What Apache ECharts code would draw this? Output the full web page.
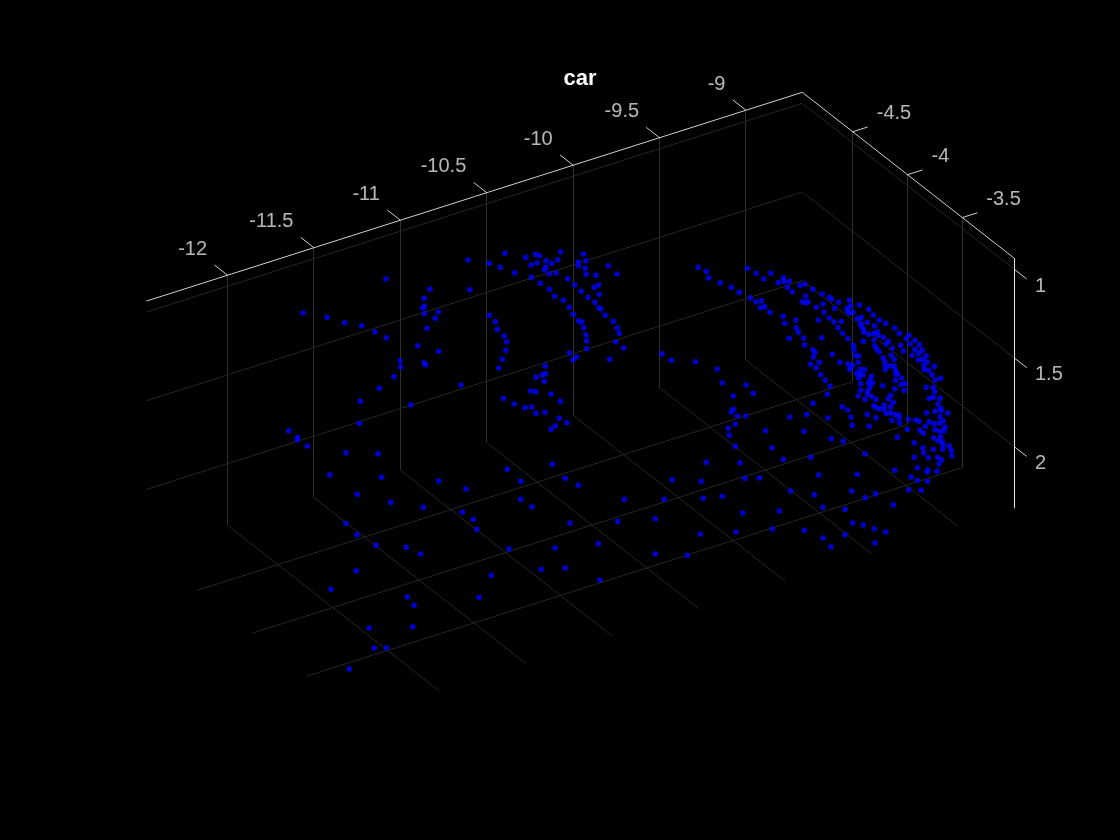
<!DOCTYPE html>
<html>
<head>
<meta charset="utf-8">
<style>html,body{margin:0;padding:0;background:#000}#chart{width:1120px;height:840px}</style>
<script src="https://cdn.jsdelivr.net/npm/echarts@6/dist/echarts.min.js"></script>
</head>
<body>
<div id="chart"></div>
<script>
// Tick values and labels of the three box axes
const xTicks = [-12, -11.5, -11, -10.5, -10, -9.5, -9];
const yTicks = [-4.5, -4, -3.5];
const zTicks = [1, 1.5, 2];
const xLimits = [-12.469, -8.674];
const yLimits = [-4.96, -3.026];
const zLimits = [0.938, 2.347];
const titleText = 'car';

// Scatter points, as [across, down] on the view plane of the 3-D plot
const frontBody = [
[822,294],[829.3,297.3],[831.7,299.3],[838.7,302.3],[849.3,300.3],[823,304],[850.7,306],[859.3,305],[834.7,308.3],[847.3,308],
[847.3,310.7],[824,312.3],[849.3,313.3],[853,312.3],[868.7,309.3],[873.3,315],[861.3,317.3],[857.3,318.7],[829.3,318],[834,321.7],
[841.3,321.3],[879.3,320],[885.7,323.3],[867.3,322.3],[860.7,323.3],[861.3,326],[874.7,325.7],[838,327.7],[863.3,329],[864,332.3],
[894.7,328],[899.3,333.3],[842.7,333.3],[868.7,334.3],[874,333.3],[877.3,332],[878,335.3],[883.3,337.3],[909,335.3],[906.3,338.3],
[915,340.3],[821.7,337.7],[848,338.7],[863.3,341.3],[874,340],[888.7,341.3],[886,343.7],[910,344],[919.7,344.7],[900.7,345.3],
[853.3,345.3],[875,346],[876.7,349],[892.3,348.3],[915,349.3],[922.3,350.3],[854,349.7],[879.3,352],[903.3,351],[918.7,353.3],
[912.3,355.3],[926.3,355.7],[832.3,354.3],[855.3,355.7],[858.7,355.7],[891.3,355.3],[883.3,358],[894.3,359.3],[918.3,360],[922.7,359.3],
[927.3,362],[840,362.3],[858.3,362.3],[885,361.7],[848,364],[852.3,365.3],[850.7,367.7],[849.7,369.3],[885.3,365.7],[890,366],
[894.3,366],[924,365],[934.3,366.3],[885.3,369.3],[860,369.3],[864.7,369.3],[895.3,370],[924.3,369.3],[928.7,370.3],[897.3,373.3],
[896,374.3],[856.7,373.3],[860,374.3],[863.3,375],[932,374.7],[871.7,376.3],[901.7,378],[858.7,378],[820.7,374.7],[940.7,378.3],
[935,380],[870,380],[895.3,380.3],[825.3,380.3],[860.7,383.7],[868.7,383.3],[872.7,382.7],[882.7,385.7],[901.3,384.3],[905,383.7],
[830,386.3],[894.7,388.7],[926,387.3],[933.3,387.3],[870,387.3],[860.7,390.3],[867.7,390.7],[904.3,390.3],[934.7,391.7],[827.3,394.3],
[867.7,393.7],[858.3,395.7],[890.7,395.3],[871.7,396.3],[933.3,397.3],[929.3,398.3],[865,399.3],[888.3,398.7],[940,398.3],[876,399.3]
];
const frontLower = [
[893.3,402.3],[938,404],[842.3,406.7],[847.7,410],[874,405.7],[875.3,407.3],[879.3,408.7],[884,404.7],[884.3,408.7],[890.7,406.7],
[940.7,408.3],[941,410.7],[926.7,412.7],[935,411.3],[947.7,413],[886,413.3],[890.7,412.7],[895,414.3],[899,415],[899,418],
[867.3,414.3],[851,417],[876,417.7],[828,418],[940,416.7],[908.3,419.3],[915.7,420],[919,421.3],[892,420.3],[943.3,421],
[929.3,421.7],[934,423.7],[939.3,423.3],[899.7,423],[852.3,425.3],[869.3,426.3],[925.3,426.3],[945,427],[907.3,429.3],[920,430.3],
[935,429.7],[940,431.3],[944,430.7],[923.3,433.3],[897.3,437.3],[831.3,438.7],[843.3,441.3],[933.7,437.7],[940.7,436.7],[938,440.7],
[942,441.7],[914.3,442.7],[943,445],[949.3,445.7],[923,447.7],[933.3,449.3],[942.7,449.3],[951.3,450.3],[923.7,452.7],[865,453.7],
[951.7,455.7],[914.3,457.3],[928.3,457.7],[937.7,457.3],[941.7,460],[939,464],[917.3,467.7],[927.7,470],[927,471.7],[937,471.3],
[894.7,470.3],[857.3,474.3],[911,477],[917.3,480.3],[927.3,481.3],[908.7,489.7],[921.3,490.3],[851.7,491],[875.7,493.7],[865.3,497.7],
[893.3,504.7],[822.7,507.3],[845,509.3],[852.7,522.7],[863.3,525],[874.3,528.7],[885.7,532],[875,543],[845,534.7],[823,538],[831,546.7]
];
const bonnetTop = [
[698.3,267.3],[706.3,271.3],[708.7,277.7],[720.3,282.7],[731.3,287.3],[739.3,292.3],[747.3,268.3],[756.3,273.3],[771,273.3],[763.7,279],
[783.3,277.7],[778.3,282.7],[784,281.3],[789.3,281.3],[787.3,287.3],[800,285.3],[805,284],[792.3,291.7],[813,289.3],[805.7,296],
[750.3,297.7],[756,301.7],[761.7,300.7],[760.3,307.7],[764.7,306.7],[770,312.3],[802.3,301.7],[806,303],[808,301.7],[816.3,307.3],
[783.3,316.3],[795.7,320],[818.3,320],[784.7,323.3],[796.3,327.7],[798.3,332.3],[789.3,338.3],[803.7,338],[804.7,345],[813,349.7],
[815,352.3],[813.3,357],[819.3,362.3],[810.7,364.3],[816.3,368],[695.3,361.7],[717.3,369]
];
const midLower = [
[662,353.7],[671.3,360.3],[722.3,383],[746.3,385],[753.3,393.3],[733.3,396],[733.3,409.3],[731.3,412],[737.3,416],[745.7,416],
[735.3,424],[728.3,428.3],[729.3,435.3],[735.3,446.3],[765.7,430.7],[789.7,417],[806.7,414.3],[813,403.3],[804,431.3],[772,447.7],
[783.3,459.3],[810.7,457.3],[706.3,462.3],[740,462.7],[818.7,475],[672.3,479.7],[701.3,481.3],[745,478.3],[759.3,478],[790.7,491],
[664.3,499.3],[703.3,498.3],[722.3,496.3],[814.3,494.7],[742.7,513],[779.3,511],[655.3,518.7],[700.3,534],[736,532],[772.3,529],
[804.3,530.3],[655.3,554],[687.3,555.3]
];
const floorMiddle = [
[507.3,469.3],[552.7,464.3],[521,481.3],[565.3,478.3],[578.3,485.3],[520.7,499.3],[532,506.7],[624.3,499.3],[570,523],[617.7,521.3],
[509,549],[555,548],[598.3,543.7],[541.3,569.3],[565.3,568],[491.3,575.3],[599.7,580]
];
const floorRear = [
[307.3,446],[297.3,440],[346,452.7],[378,453.7],[329.7,474.7],[381.7,477.3],[438.7,481],[466,489],[357.3,494.3],[390.7,502.3],
[423.3,507.3],[462.3,512.3],[473.3,519.3],[476.7,529.3],[346,523.3],[357,534.7],[376,545.3],[406.3,547.3],[420.7,554],[356.3,570.7],
[331,589.3],[407.3,597],[414,605.3],[479,597.3],[369.3,628],[412.7,626.7],[374.3,648],[386.3,647.7],[349.3,669]
];
const rearUpper = [
[386,279],[468,260],[430,289],[469.7,289.7],[424.3,298.3],[424.3,306.3],[422.7,308],[303,313],[327,317.3],[344.7,322.7],
[361.7,325.7],[424.7,313.7],[438.3,312],[435.3,318.3],[427,328.3],[375,331.7],[386.3,337.7],[417.7,345.7],[438.7,351.3],[400,360.7],
[400.7,367],[424,362.7],[425.7,365],[394,376.7],[379.3,388.3],[360.3,401.3],[461,385],[410.7,405],[359.3,423.3],[288.7,430.7],[297.7,437.3]
];
const roofAndCabin = [
[505,253.3],[489.3,263.3],[500.3,267.3],[525.7,257.3],[535.3,254.3],[539.7,255.7],[560.7,251.7],[583.3,254],[546,260.7],[557.7,259.7],
[531,265],[537,263],[551.7,263.3],[578.3,262],[578.3,265.7],[586,260.7],[608.3,265.7],[514.7,272.7],[545.7,267.3],[544.3,269.7],
[585.3,268.3],[549.3,273.7],[556.3,273],[586.3,274.3],[596,275.3],[617,274],[531.3,277.3],[567.7,278.7],[540.3,283.3],[574.7,285],
[598.7,285],[594.3,287.3],[549.3,289.3],[581.3,291.3],[599.3,294.3],[554.7,296.3],[588,297.3],[563.3,300.3],[594.7,302.3],[569.3,307.3],
[599,307.7],[601,309],[573.3,314.3],[605.3,315.3],[489.3,315.3],[495.3,321.7],[578.7,320.7],[581.7,322],[613.3,321.3],[497.3,329.3],
[583.7,327.7],[617.3,328],[619.3,333.3],[504,336],[586,335],[506.7,341.7],[586.7,341],[615.7,342],[505.7,350.3],[586.7,348.7],
[623.7,348],[569.3,353],[576.7,357],[573,359.7],[502.3,359.3],[609.7,359.3],[498.7,368],[545.3,366],[545.7,373.7],[542,374.7],
[536,377.3],[544.3,381.3],[530.7,391],[535.7,391.7],[551,394],[503.3,398.3],[514.3,404],[560.3,401.3],[525,407.7],[531.7,407],
[536,413.3],[545,412.3],[559.3,418.3],[567,422.7],[555.3,425.7],[551,429.3]
];

// Oblique projection of the 3-D box onto the page
function project(x, y, z) {
  const dx = x - xLimits[1], dy = y - yLimits[0], dz = z - zLimits[0];
  return [802.3 + dx * 172.8 + dy * 109.6, 92.3 - dx * 55 + dy * 85.8 + dz * 177.4];
}
const GRID_V = '#303030', GRID_D = '#252525', AXIS = '#cfcfcf', TEXT = '#e4e4e4';
const series = [];
function seg(a, b, color) {
  series.push({type:'line', data:[a, b], symbol:'none', silent:true, animation:false, z:1,
    lineStyle:{color:color, width:1}});
}
function crisp(p) { return [Math.floor(p[0]) + 0.5, p[1]]; }
const [x0, x1] = xLimits, [y0, y1] = yLimits, [z0, z1] = zLimits;

// grid: back wall, side wall, floor
xTicks.forEach(x => {
  seg(crisp(project(x, y0, z0)), crisp(project(x, y0, z1)), GRID_V);
  seg(project(x, y0, z1), project(x, y1, z1), GRID_D);
});
yTicks.forEach(y => {
  seg(crisp(project(x1, y, z0)), crisp(project(x1, y, z1)), GRID_V);
  seg(project(x1, y, z1), project(x0, y, z1), GRID_D);
});
zTicks.forEach(z => {
  seg(project(x0, y0, z), project(x1, y0, z), GRID_D);
  seg(project(x1, y0, z), project(x1, y1, z), GRID_D);
});
// box rulers
seg(project(x0, y0, z0), project(x1, y0, z0), AXIS);
seg(project(x1, y0, z0), project(x1, y1, z0), AXIS);
seg(crisp(project(x1, y1, z0)), crisp(project(x1, y1, z1)), '#e6e6e6');
// tick marks
xTicks.forEach(x => seg(project(x, y0, z0), project(x, y0 - 0.12, z0), AXIS));
yTicks.forEach(y => seg(project(x1, y, z0), project(x1 + 0.087, y, z0), AXIS));
zTicks.forEach(z => seg(project(x1, y1, z), project(x1, y1 + 0.113, z), AXIS));

// tick labels
function labels(items, align, off) {
  series.push({type:'scatter', symbolSize:0, silent:true, animation:false, z:3,
    data: items.map(it => ({value: it.p, name: String(it.t)})),
    label:{show:true, position:'inside', formatter:'{b}', align:align, verticalAlign:'middle', offset:off,
      color:TEXT, fontFamily:'"Liberation Sans",Arial,sans-serif', fontSize:20}});
}
labels(xTicks.map(t => ({t, p: project(t, y0, z0)})), 'right', [-20.5, -26]);
labels(yTicks.map(t => ({t, p: project(x1, t, z0)})), 'left', [24, -18.5]);
labels(zTicks.map(t => ({t, p: project(x1, y1, t)})), 'left', [20.7, 17]);

// point cloud
const allPoints = [].concat(frontBody, frontLower, bonnetTop, midLower, floorMiddle, floorRear, rearUpper, roofAndCabin);
series.push({type:'scatter', data: allPoints, symbol:'circle', symbolSize:5.6, silent:true, animation:false, z:2,
  itemStyle:{color:'#0000ff'}});

const chart = echarts.init(document.getElementById('chart'), null, {renderer:'canvas'});
chart.setOption({
  backgroundColor:'#000',
  animation:false,
  title:{text:titleText, left:575, top:63, textAlign:'center',
    textStyle:{color:'#fff', fontFamily:'"Liberation Sans",Arial,sans-serif', fontWeight:'bold', fontSize:22}},
  grid:{left:0, right:0, top:0, bottom:0},
  xAxis:{type:'value', min:0, max:1120, show:false},
  yAxis:{type:'value', min:0, max:840, inverse:true, show:false},
  series:series
});
</script>
</body>
</html>
